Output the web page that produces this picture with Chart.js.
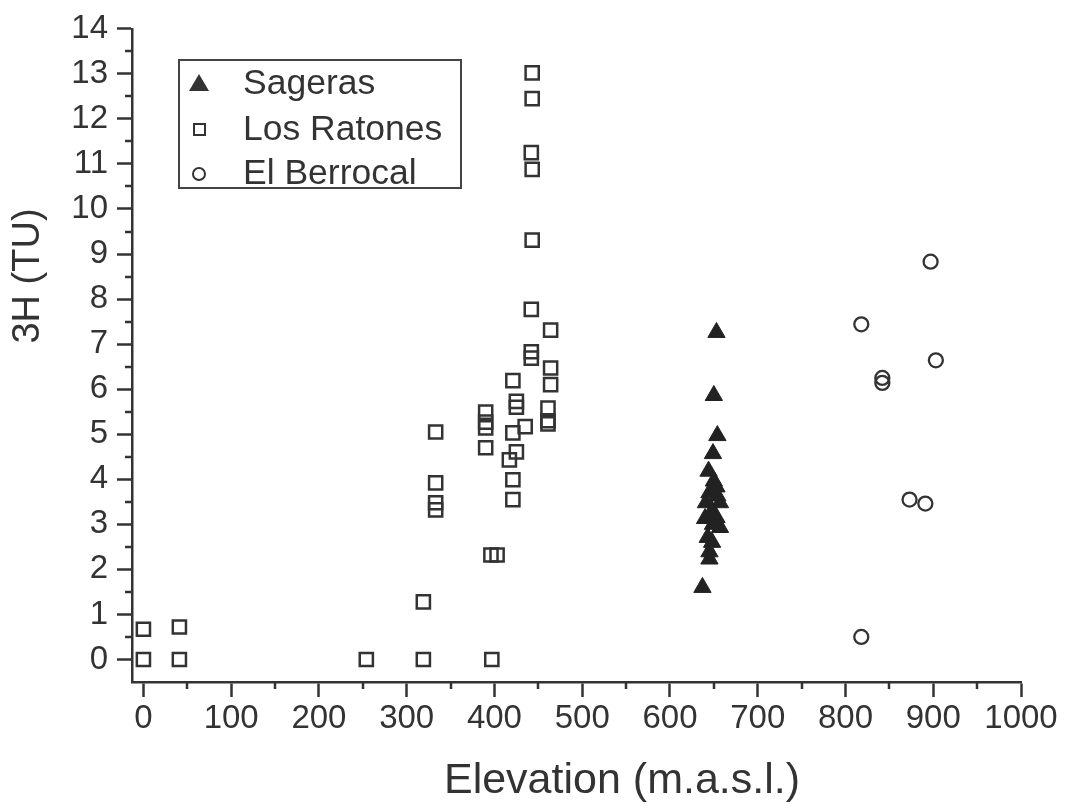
<!DOCTYPE html>
<html><head><meta charset="utf-8">
<script src="https://cdn.jsdelivr.net/npm/chart.js@4"></script>
<style>html,body{margin:0;padding:0;background:#fff}#wrap{width:1068px;height:806px}</style>
</head><body><div id="wrap"><canvas id="c" width="1068" height="806"></canvas></div>
<script>
// ---- data ----
const seriesNames = ["Sageras", "Los Ratones", "El Berrocal"];
const sagerasX = [653, 650, 654, 649, 644, 650, 653, 645, 654, 641, 657, 648, 645, 653, 640, 649, 657, 643, 648, 645, 645, 637];
const sagerasY = [7.26, 5.86, 4.97, 4.57, 4.18, 3.96, 3.83, 3.70, 3.63, 3.48, 3.48, 3.30, 3.15, 3.15, 3.13, 3.00, 2.93, 2.71, 2.60, 2.39, 2.23, 1.60];
const ratonesX = [0, 0, 41, 41, 254, 319, 319, 397, 396, 403, 333, 333, 333, 333, 390, 390, 390, 390, 421, 425, 425, 421, 435, 425, 417, 421, 421, 443, 443, 442, 443, 443, 442, 442, 442, 464, 464, 464, 461, 461, 461];
const ratonesY = [0.67, 0, 0.72, 0, 0, 0, 1.28, 0, 2.32, 2.32, 5.05, 3.92, 3.48, 3.32, 5.49, 5.27, 5.14, 4.70, 6.19, 5.73, 5.60, 5.03, 5.17, 4.61, 4.43, 3.99, 3.55, 13.02, 12.45, 11.25, 10.88, 9.31, 7.77, 6.83, 6.69, 7.31, 6.47, 6.10, 5.58, 5.30, 5.23];
const berrocalX = [897, 818, 903, 842, 842, 873, 891, 818];
const berrocalY = [8.83, 7.44, 6.64, 6.25, 6.14, 3.55, 3.46, 0.50];
const xTicks = [0, 100, 200, 300, 400, 500, 600, 700, 800, 900, 1000];
const yTicks = [0, 1, 2, 3, 4, 5, 6, 7, 8, 9, 10, 11, 12, 13, 14];
const xTitle = "Elevation (m.a.s.l.)";
const yTitle = "3H (TU)";

const INK = '#333333';
const FONT = "'Liberation Sans', Arial, sans-serif";
const toPts = (xs, ys) => xs.map((x, i) => ({x: x, y: ys[i]}));

const decorations = {
  id: 'decorations',
  afterDraw(chart) {
    const ctx = chart.ctx, xs = chart.scales.x, ys = chart.scales.y, a = chart.chartArea;
    ctx.save();
    ctx.strokeStyle = INK; ctx.lineWidth = 2.5;
    for (let i = 0; i < xTicks.length - 1; i++) {
      const v = (xTicks[i] + xTicks[i + 1]) / 2;
      const p = Math.round(xs.getPixelForValue(v));
      ctx.beginPath(); ctx.moveTo(p, a.bottom); ctx.lineTo(p, a.bottom + 7); ctx.stroke();
    }
    for (let i = 0; i < yTicks.length - 1; i++) {
      const v = (yTicks[i] + yTicks[i + 1]) / 2;
      const p = Math.round(ys.getPixelForValue(v));
      ctx.beginPath(); ctx.moveTo(a.left, p); ctx.lineTo(a.left - 7, p); ctx.stroke();
    }
    ctx.fillStyle = INK;
    ctx.textAlign = 'center'; ctx.textBaseline = 'middle';
    // x title
    ctx.font = "43px " + FONT;
    ctx.fillText(xTitle, 622, 781);
    // y title
    ctx.font = "38px " + FONT;
    ctx.translate(29, 276); ctx.rotate(-Math.PI / 2);
    ctx.fillText(yTitle, 0, 0);
    ctx.restore();
  }
};

const boxLegend = {
  id: 'boxLegend',
  afterDraw(chart) {
    const ctx = chart.ctx;
    ctx.save();
    ctx.strokeStyle = '#444'; ctx.lineWidth = 2;
    ctx.strokeRect(179, 60, 282, 128);
    const rows = [83, 129, 173];
    ctx.font = "35.5px " + FONT; ctx.fillStyle = INK;
    ctx.textAlign = 'left'; ctx.textBaseline = 'middle';
    chart.data.datasets.forEach((ds, i) => {
      const y = rows[i];
      const st = ds.pointStyle;
      ctx.lineWidth = 2;
      ctx.strokeStyle = INK;
      if (st === 'triangle') {
        ctx.fillStyle = INK;
        ctx.beginPath(); ctx.moveTo(199, y - 9); ctx.lineTo(209, y + 8); ctx.lineTo(189, y + 8); ctx.closePath(); ctx.fill();
      } else if (st === 'rect') {
        ctx.strokeRect(194, y - 5, 11, 11);
      } else {
        ctx.beginPath(); ctx.arc(199, y + 1, 6, 0, Math.PI * 2); ctx.stroke();
      }
      ctx.fillStyle = INK;
      ctx.fillText(ds.label, 243, y + 1);
    });
    ctx.restore();
  }
};

new Chart(document.getElementById('c'), {
  type: 'scatter',
  data: {
    datasets: [
      {label: seriesNames[0], data: toPts(sagerasX, sagerasY), pointStyle: 'triangle', pointRadius: 10, pointHoverRadius: 10, backgroundColor: '#222', borderColor: '#222', borderWidth: 1},
      {label: seriesNames[1], data: toPts(ratonesX, ratonesY), pointStyle: 'rect', pointRadius: 9.3, pointHoverRadius: 9.3, backgroundColor: 'rgba(0,0,0,0)', borderColor: INK, borderWidth: 2.5},
      {label: seriesNames[2], data: toPts(berrocalX, berrocalY), pointStyle: 'circle', pointRadius: 7, pointHoverRadius: 7, backgroundColor: 'rgba(0,0,0,0)', borderColor: INK, borderWidth: 2.3}
    ]
  },
  options: {
    responsive: false, animation: false, devicePixelRatio: 1,
    layout: {padding: {top: 19, right: 47, left: 0, bottom: 0}},
    plugins: {legend: {display: false}, tooltip: {enabled: false}},
    scales: {
      x: {
        type: 'linear', min: -13, max: 1000,
        afterBuildTicks: s => { s.ticks = xTicks.map(v => ({value: v})); },
        afterFit: s => { s.height = 124; },
        border: {display: true, color: INK, width: 2.5},
        grid: {display: true, drawOnChartArea: false, drawTicks: true, tickLength: 15, tickColor: INK, tickWidth: 2.5},
        ticks: {color: INK, font: {family: FONT, size: 33}, padding: 2, maxRotation: 0, autoSkip: false, callback: v => String(v)}
      },
      y: {
        type: 'linear', min: -0.5, max: 14,
        afterBuildTicks: s => { s.ticks = yTicks.map(v => ({value: v})); },
        afterFit: s => { s.width = 132; },
        border: {display: true, color: INK, width: 2.5},
        grid: {display: true, drawOnChartArea: false, drawTicks: true, tickLength: 15, tickColor: INK, tickWidth: 2.5},
        ticks: {color: INK, font: {family: FONT, size: 33}, padding: 9, autoSkip: false, callback: v => String(v)}
      }
    }
  },
  plugins: [decorations, boxLegend]
});
</script></body></html>
